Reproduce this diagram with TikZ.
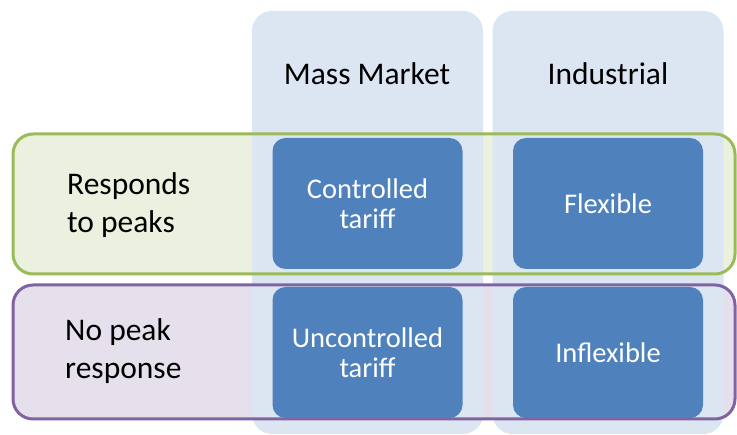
\documentclass[tikz,border=0pt]{standalone}
\usepackage{fontspec}
\setmainfont{Carlito}
\usetikzlibrary{positioning}

\definecolor{colfill}{HTML}{DCE6F2}
\definecolor{cellblue}{HTML}{4F81BD}
\definecolor{greenfill}{HTML}{EBF1DE}
\definecolor{greenedge}{HTML}{9BBB59}
\definecolor{purplefill}{HTML}{E5E0EC}
\definecolor{purpleedge}{HTML}{8064A2}

\begin{document}
\begin{tikzpicture}[
    x=1pt, y=-1pt,
    every node/.style={font=\fontsize{31.5}{38}\selectfont, align=center, inner sep=0pt},
    band/.style={rectangle, rounded corners=20pt, minimum width=722pt},
    column/.style={rectangle, rounded corners=20pt, fill=colfill, minimum width=231pt, minimum height=423pt},
    cell/.style={rectangle, rounded corners=13pt, fill=cellblue, text=white, minimum width=190pt, minimum height=131pt,
                 font=\fontsize{28.5}{30}\selectfont},
    rowtext/.style={align=left, anchor=west}
]
    \useasboundingbox (0,0) rectangle (737,435);

    % row fills sit underneath the columns
    \node[band, fill=greenfill, minimum height=140pt] (peakfill) at (374,204) {};
    \node[band, fill=purplefill, minimum height=134pt] (nopeakfill) at (374,352) {};

    \node[column] (mass) at (367.5,222.5) {};
    \node[column] (ind) at (608,222.5) {};
    \node (masshead) at (367,74) {Mass Market};
    \node (indhead) at (608,74) {Industrial};

    % row outlines go on top
    \node[band, draw=greenedge, line width=3pt, minimum height=140pt] (peak) at (374,204) {};
    \node[band, draw=purpleedge, line width=3pt, minimum height=134pt] (nopeak) at (374,352) {};

    \node[rowtext] (peaktext) at (67,205) {Responds\\to peaks};
    \node[rowtext] (nopeaktext) at (65,351) {No peak\\response};

    \node[cell] (controlled) at (367.5,203.5) {Controlled\\tariff};
    \node[cell] (flexible) at (608,203.5) {Flexible};
    \node[cell] (uncontrolled) at (367.5,352.5) {Uncontrolled\\tariff};
    \node[cell] (inflexible) at (608,352.5) {Inflexible};
\end{tikzpicture}
\end{document}
